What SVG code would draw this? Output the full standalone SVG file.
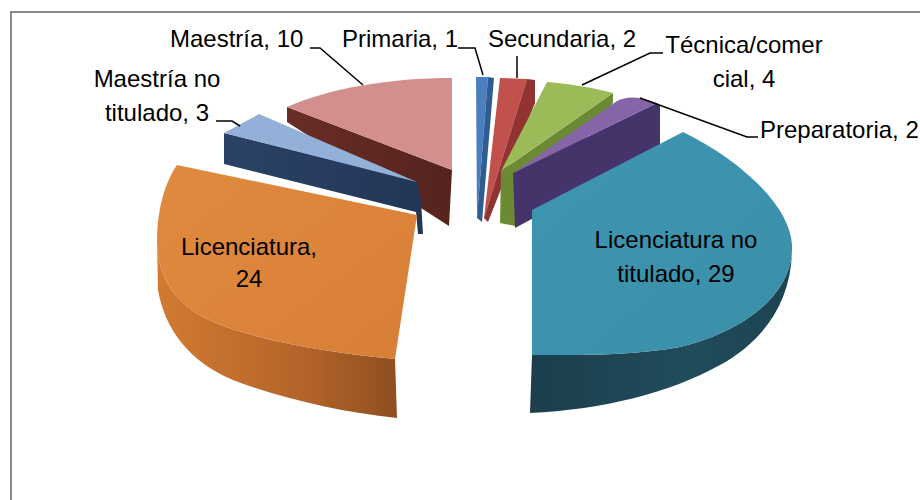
<svg xmlns="http://www.w3.org/2000/svg" width="920" height="500" viewBox="0 0 920 500">
<style>
.lbl{font-family:"Liberation Sans",Arial,sans-serif;font-size:24px;fill:#000}
.mid{text-anchor:middle}
.lead{fill:none;stroke:#000;stroke-width:1.5}
</style>
<defs>
<linearGradient id="gOrSide" x1="0" y1="0" x2="1" y2="0">
<stop offset="0" stop-color="#D27A31"/><stop offset="0.6" stop-color="#B4642A"/><stop offset="1" stop-color="#8F4F20"/>
</linearGradient>
<linearGradient id="gOrTop" x1="0" y1="0" x2="1" y2="1">
<stop offset="0" stop-color="#E08A3F"/><stop offset="1" stop-color="#D77F36"/>
</linearGradient>
<linearGradient id="gTeSide" x1="0" y1="0" x2="1" y2="0">
<stop offset="0" stop-color="#1B3E4C"/><stop offset="0.6" stop-color="#204C5C"/><stop offset="1" stop-color="#1C4352"/>
</linearGradient>
<linearGradient id="gTeTop" x1="0" y1="0" x2="1" y2="1">
<stop offset="0" stop-color="#3F96B1"/><stop offset="1" stop-color="#3A8EA8"/>
</linearGradient>
<linearGradient id="gBrown" x1="0" y1="0" x2="1" y2="0">
<stop offset="0" stop-color="#6A2D27"/><stop offset="1" stop-color="#55231E"/>
</linearGradient>
<linearGradient id="gNavy" x1="0" y1="0" x2="1" y2="0">
<stop offset="0" stop-color="#2B4266"/><stop offset="1" stop-color="#223656"/>
</linearGradient>
</defs>
<rect width="920" height="500" fill="#fff"/>
<path d="M11,500 L11,12 L920,12" fill="none" stroke="#8A8A8A" stroke-width="2"/>

<g id="maestria">
<path d="M287,107 L452,170 L449,226 L287,122 Z" fill="url(#gBrown)"/>
<path d="M287,107 C330,88 390,78 452,78 L452,170 Z" fill="#D38F8E"/>
<text class="lbl" x="170" y="47">Maestría, 10</text>
</g>

<g id="maestria-no-titulado">
<path d="M224,133 L417,181 L421,200 L423,234 L418,234 L416,212 L224,164 Z" fill="url(#gNavy)"/>
<path d="M224,133 L259,114 L417,182 Z" fill="#93B0D9"/>
<text class="lbl mid" x="157" y="87">Maestría no</text>
<text class="lbl mid" x="157" y="121">titulado, 3</text>
</g>

<g id="primaria">
<path d="M476,77 L488,77 L477,218 Z" fill="#4A7FBD"/>
<path d="M488,77 L494,78 L482,222 L477,218 Z" fill="#2F5C92"/>
<text class="lbl" x="342" y="47">Primaria, 1</text>
</g>

<g id="secundaria">
<path d="M500,78 L527,79 L484,218 Z" fill="#C2504D"/>
<path d="M527,79 L535,80 L535,103 L488,222 L484,218 Z" fill="#913330"/>
<text class="lbl" x="488" y="47">Secundaria, 2</text>
</g>

<g id="tecnica">
<path d="M613,93 L613,103 L515,226 L500,223 L501,171 Z" fill="#6C8A34"/>
<path d="M547,82 C570,84 595,88 613,93 L501,171 Z" fill="#9BBB59"/>
<text class="lbl mid" x="744" y="53">Técnica/comer</text>
<text class="lbl mid" x="744" y="87">cial, 4</text>
</g>

<g id="preparatoria">
<path d="M657,103 L660,106 L660,150 L515,228 L513,173 Z" fill="#45346A"/>
<path d="M513,173 L617,101 Q632,93 657,103 Z" fill="#8466A8"/>
<text class="lbl" x="760" y="138">Preparatoria, 2</text>
</g>

<g id="licenciatura">
<path d="M157,240 C157,270 170,300 205,318 C250,340 330,353 395,359 L397,418 C340,412 280,398 233,380 C190,362 165,330 158,290 Z" fill="url(#gOrSide)"/>
<path d="M177,165 L417,215 L395,359 C330,353 250,340 205,318 C170,300 157,270 157,240 C157,210 165,182 177,165 Z" fill="url(#gOrTop)"/>
<text class="lbl mid" x="249" y="255">Licenciatura,</text>
<text class="lbl mid" x="249" y="287">24</text>
</g>

<g id="licenciatura-no-titulado">
<path d="M532,355 C580,355 630,356 680,347 C750,330 794,290 792,245 C793,300 765,340 720,365 C670,393 600,410 530,413 Z" fill="url(#gTeSide)"/>
<path d="M532,210 L683,132 C740,160 790,205 792,245 C794,290 750,330 680,347 C630,356 580,355 532,355 Z" fill="url(#gTeTop)"/>
<text class="lbl mid" x="676" y="248">Licenciatura no</text>
<text class="lbl mid" x="676" y="282">titulado, 29</text>
</g>

<g id="connectors">
<path class="lead" d="M310,48 L320,48 L363,85"/>
<path class="lead" d="M458,48 L475,48 L483,75"/>
<path class="lead" d="M517,56 L517,78"/>
<path class="lead" d="M663,53 L650,53 L582,85"/>
<path class="lead" d="M758,137 L747,137 L640,98"/>
<path class="lead" d="M216,121 L232,121 L240,126"/>
</g>
</svg>
